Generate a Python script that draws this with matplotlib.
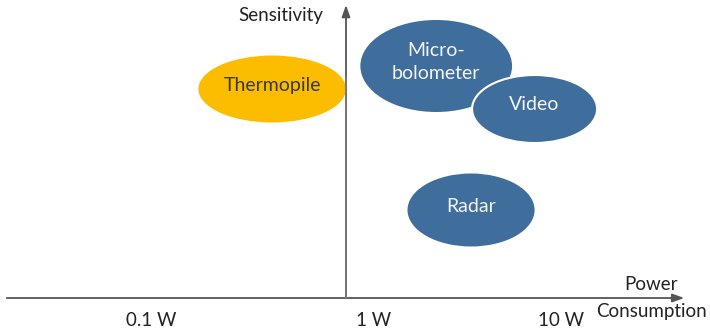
import numpy as np
import matplotlib
matplotlib.use("Agg")
import matplotlib.pyplot as plt
from matplotlib.patches import Ellipse

# sensor bubbles: centre/extent in log10(W) and arbitrary sensitivity units
sensors = ["Thermopile", "Micro-\nbolometer", "Video", "Radar"]
power_center = [-0.36, 0.44, 0.92, 0.61]
power_span = [0.72, 0.74, 0.61, 0.62]
sens_center = [2.09, 2.32, 1.89, 0.88]
sens_span = [0.67, 0.92, 0.68, 0.73]

power_ticks = [0.1, 1, 10]
power_labels = ["0.1 W", "1 W", "10 W"]

BLUE = "#3f6e9c"
YELLOW = "#fcbd00"
fill_colors = [YELLOW, BLUE, BLUE, BLUE]
text_colors = ["#3a3a2a", "#f4f4f4", "#f4f4f4", "#f4f4f4"]

plt.rcParams['font.family'] = ['Lato', 'DejaVu Sans']

fig = plt.figure(figsize=(7.1, 3.3), dpi=100)
ax = fig.add_axes([0, 0, 1, 1])
ax.set_xlim(-346 / 205, 364 / 205)
ax.set_ylim(-0.32, 2.98)
ax.axis('off')

for i, name in enumerate(sensors):
    # video bubble gets a white rim where it overlaps the microbolometer
    edge = "white" if name == "Video" else "none"
    e = Ellipse((power_center[i], sens_center[i]), power_span[i], sens_span[i],
                facecolor=fill_colors[i], edgecolor=edge, lw=1.5, zorder=2 + i)
    ax.add_patch(e)
    ax.text(power_center[i], sens_center[i] + 0.04, name, color=text_colors[i],
            fontsize=14, ha='center', va='center', linespacing=1.45, zorder=10)

# axes with arrow heads
ax.annotate("", xy=(1.65, 0), xytext=(-1.655, 0), zorder=1,
            arrowprops=dict(arrowstyle='-|>,head_length=0.7,head_width=0.25',
                            color="#555555", lw=1.3, shrinkA=0, shrinkB=0))
ax.annotate("", xy=(0, 2.93), xytext=(0, 0), zorder=1,
            arrowprops=dict(arrowstyle='-|>,head_length=0.7,head_width=0.25',
                            color="#555555", lw=1.3, shrinkA=0, shrinkB=0))
ax.plot([0, 0], [0, 2.2], color="#777777", lw=1.3, zorder=6)

for v, lab in zip(power_ticks, power_labels):
    ha = 'left' if v == 1 else 'center'
    ax.annotate(lab, (np.log10(v), 0), xytext=(7, -16), textcoords='offset points',
                ha=ha, va='center', fontsize=13.5, color="#222222")

ax.text(-0.112, 2.83, "Sensitivity", ha='right', va='center', fontsize=13.5, color="#222222")
ax.text(1.49, 0.13, "Power", ha='center', va='center', fontsize=13.5, color="#222222")
ax.text(1.49, -0.14, "Consumption", ha='center', va='center', fontsize=13.5, color="#222222")

fig.savefig("out.png", dpi=100)
